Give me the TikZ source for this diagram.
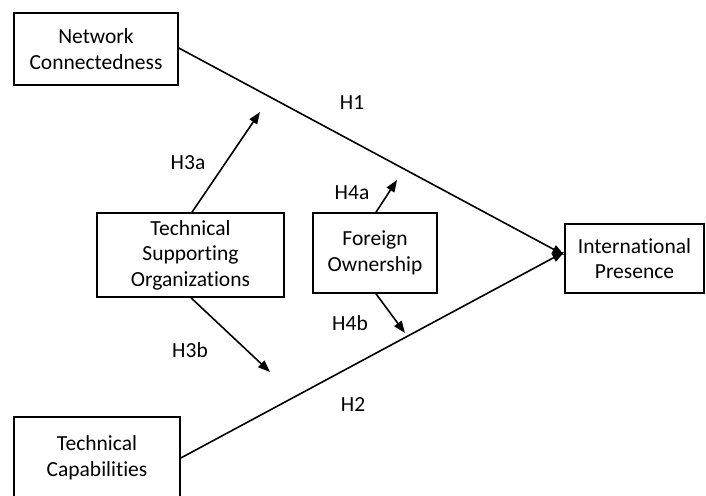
\documentclass[tikz,border=0pt]{standalone}
\usepackage{fontspec}
\setmainfont{Carlito}[Ligatures=NoCommon]
\usetikzlibrary{arrows.meta}
\tikzset{
  box/.style={draw, line width=1.6pt, align=center, inner sep=0pt,
    font=\fontsize{21.5}{25.5}\selectfont},
  lbl/.style={font=\fontsize{21.5}{25.5}\selectfont, inner sep=0pt},
  arr/.style={line width=1.6pt, -{Triangle[length=12pt,width=9pt]}}
}
\begin{document}
\begin{tikzpicture}[x=1pt,y=-1pt]
\useasboundingbox (0,0) rectangle (706,495);
\node[box, minimum width=164pt, minimum height=72pt] (nc) at (96,49) {Network\\Connectedness};
\node[box, minimum width=187pt, minimum height=84pt] (tso) at (190.5,255) {Technical\\Supporting\\Organizations};
\node[box, minimum width=124pt, minimum height=80pt] (fo) at (375,253) {Foreign\\Ownership};
\node[box, minimum width=139pt, minimum height=69pt] (ip) at (634.5,258.5) {International\\Presence};
\node[box, minimum width=166pt, minimum height=82pt] (tc) at (97,458) {Technical\\Capabilities};
\coordinate (h3aend) at (260,112);
\coordinate (h3bend) at (270,372);
\coordinate (h4aend) at (397,180);
\coordinate (h4bend) at (405,333);
\draw[arr] ([yshift=1pt]nc.east) -- ([yshift=3.5pt]ip.west);
\draw[arr] (tc.east) -- ([yshift=6.5pt]ip.west);
\draw[arr] ([xshift=1.5pt]tso.north) -- (h3aend);
\draw[arr] ([xshift=0.5pt]tso.south) -- (h3bend);
\draw[arr] ([xshift=1pt]fo.north) -- (h4aend);
\draw[arr] ([xshift=1pt]fo.south) -- (h4bend);
\node[lbl] (l1) at (352,103) {H1};
\node[lbl] (l2) at (353,405) {H2};
\node[lbl] (l3a) at (188,163) {H3a};
\node[lbl] (l3b) at (190,350) {H3b};
\node[lbl] (l4a) at (352,193) {H4a};
\node[lbl] (l4b) at (350,323) {H4b};
\end{tikzpicture}
\end{document}
